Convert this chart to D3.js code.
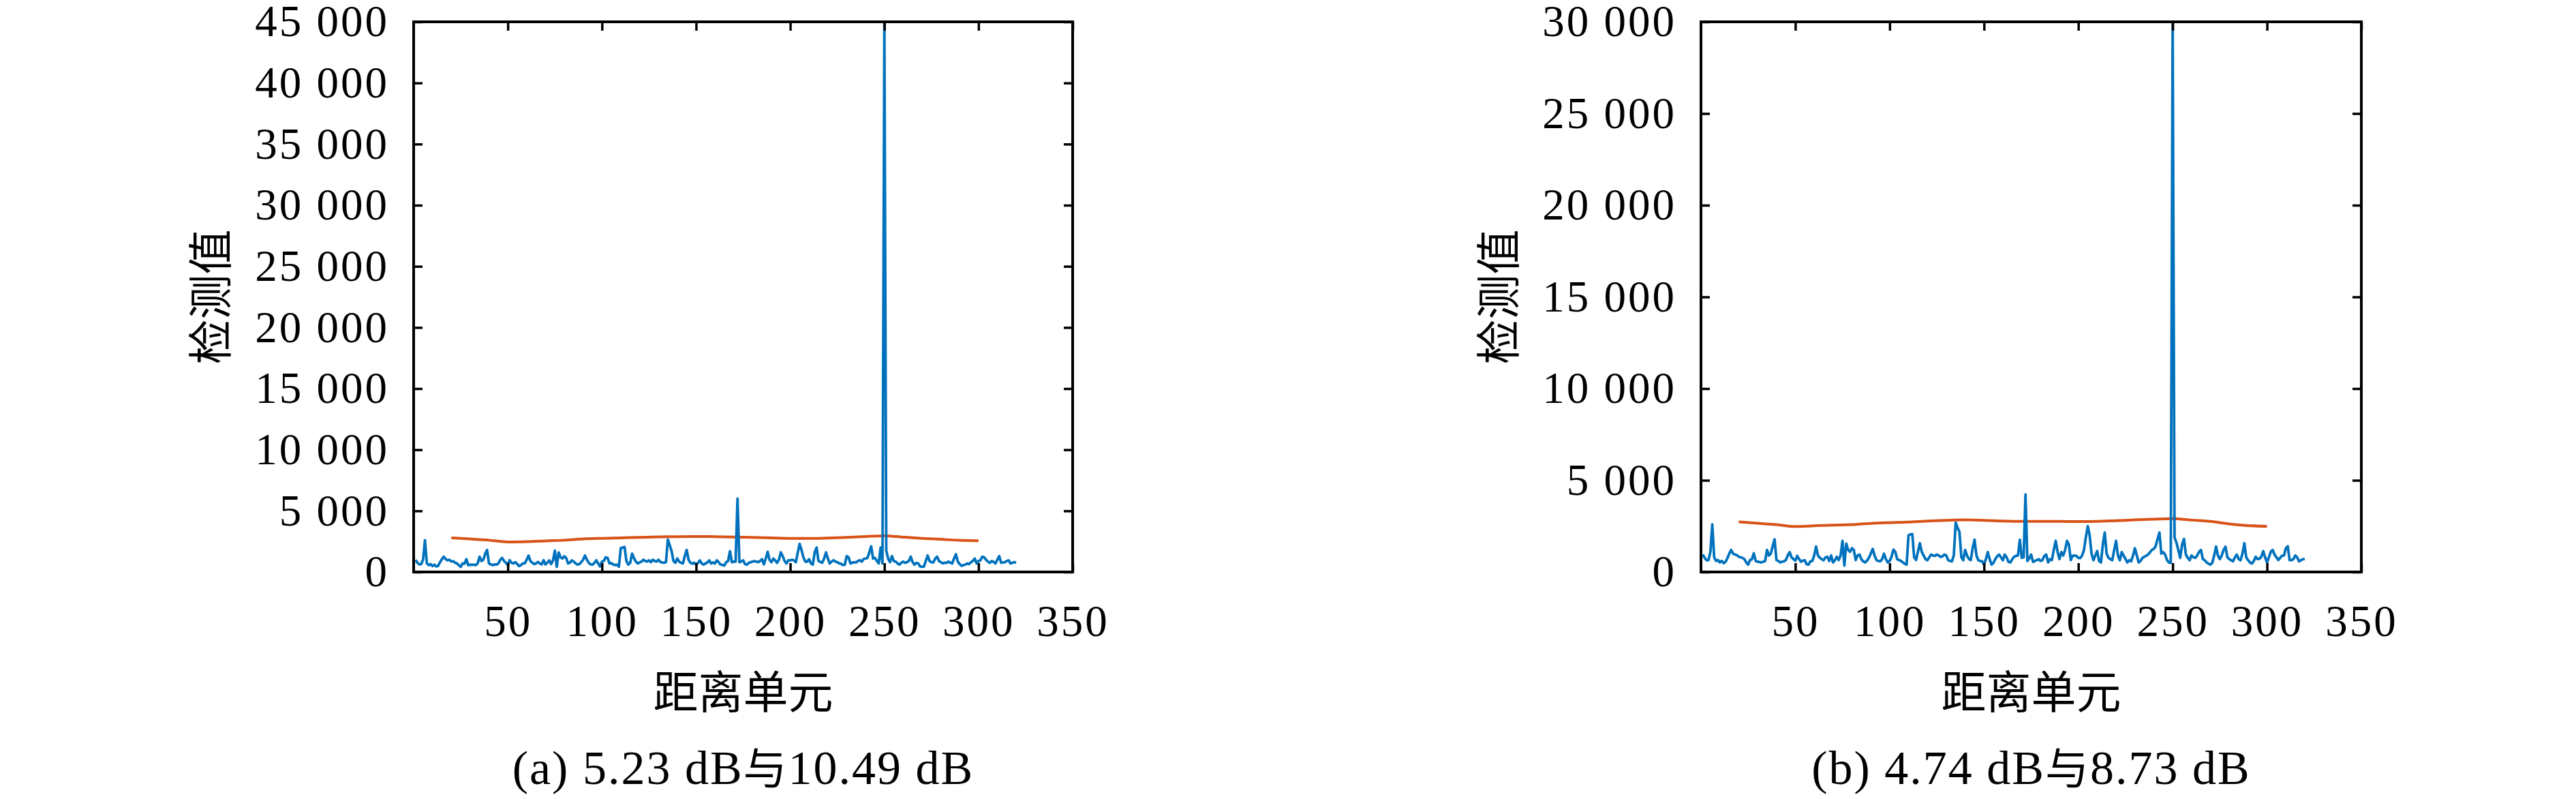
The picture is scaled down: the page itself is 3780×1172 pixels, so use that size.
<!DOCTYPE html>
<html><head><meta charset="utf-8">
<script src="https://cdn.jsdelivr.net/npm/d3@7"></script>
<style>
html,body{margin:0;padding:0;background:#fff;}
svg{display:block;}
</style></head>
<body>
<svg id="chart" width="3780" height="1172"></svg>
<script>
// ---------------- DATA ----------------
const rangeCells = d3.range(1, 321); // 距离单元 1..320

const detectA = [
980,760,620,640,1000,2600,700,560,640,480,
600,450,500,800,1050,1250,1050,950,1000,850,
880,760,700,550,420,700,680,1050,550,600,
580,600,560,700,1250,900,1000,1500,1800,700,
620,560,620,600,700,1000,1150,900,760,560,
960,750,700,800,650,480,560,700,700,1000,
1340,900,760,650,700,820,700,620,960,620,
760,950,650,950,1750,420,1600,1200,1100,1280,
1150,700,760,950,850,700,600,650,800,1000,
1350,1000,750,620,600,750,960,700,450,850,
900,1200,1150,700,720,620,560,600,430,1950,
2000,2050,900,600,750,1500,1150,850,700,780,
850,1000,900,850,950,800,1000,900,850,1000,
820,780,760,800,2650,2200,1700,900,750,1100,
850,750,700,1300,1800,1000,750,680,760,600,
750,950,700,600,700,780,950,700,780,700,
950,800,600,580,520,800,900,1700,800,850,
850,6000,800,850,950,650,600,750,800,850,
880,850,800,900,1050,620,1100,1650,1000,800,
1100,950,750,1000,1600,1300,900,700,950,950,
1000,950,800,1600,2300,1800,1200,850,850,1050,
700,600,1600,2000,900,820,760,1100,1600,1100,
700,850,960,850,800,700,680,560,600,1300,
1200,700,760,800,780,900,960,850,1060,1100,
1150,1600,2100,1100,1150,900,700,2000,700,44900,
1750,1100,800,1300,900,850,700,600,750,850,
750,800,900,1250,800,600,750,700,450,420,
440,900,1350,900,800,780,1100,1250,900,800,
700,760,750,850,760,700,1100,1450,850,650,
500,560,600,700,650,800,900,1100,700,900,
950,1250,1200,1000,850,750,900,820,700,1000,
1300,760,780,800,900,950,700,750,800,780
];

const detectB = [
950,760,640,650,1100,2600,800,600,650,520,
600,480,550,750,1000,1200,1000,950,920,830,
800,770,700,520,400,650,700,1020,600,560,
540,520,560,600,1200,900,1000,1400,1780,650,
600,520,560,580,650,900,1080,800,700,620,
880,700,560,620,640,420,400,580,600,900,
1390,900,770,700,640,800,830,600,900,520,
640,830,650,900,1700,350,1550,1200,1100,1300,
1200,650,900,950,700,580,520,620,770,1000,
1260,900,650,600,580,700,1000,700,520,600,
830,1220,1100,700,650,600,520,450,400,2000,
2050,2070,800,650,1100,1570,1100,900,700,640,
800,950,900,880,950,900,820,850,950,900,
650,600,580,900,2690,2400,2190,800,640,1200,
900,710,650,1300,1760,900,640,600,580,400,
700,1080,700,400,500,700,860,950,800,640,
950,800,550,520,700,830,880,900,1760,770,
800,4230,600,750,950,550,600,650,700,600,
650,880,950,520,700,650,1200,1700,1100,700,
1080,900,1200,1700,1500,650,880,900,880,770,
760,900,1200,1900,2500,2000,1000,640,900,1140,
600,520,1500,2150,1000,770,700,640,1200,1700,
900,640,1080,900,706,520,640,580,900,1290,
900,520,600,770,830,890,950,1080,1200,1264,
1400,1800,2150,1000,1080,950,650,520,500,29900,
1880,1600,1200,770,1500,1800,950,770,644,900,
800,770,900,1100,1200,700,640,520,450,400,
500,900,1390,900,700,900,1200,1380,800,700,
640,580,800,950,700,640,1000,1570,800,644,
520,460,600,830,700,720,830,1140,800,520,
800,1100,1200,950,800,650,770,890,900,1300,
1400,644,650,700,900,800,580,640,700,700
];

const thresholdCells = [20,30,40,50,60,70,80,90,100,110,120,130,140,150,160,170,180,190,200,210,220,230,240,250,260,270,280,290,300];
const thresholdA = [2790,2700,2600,2460,2480,2540,2600,2700,2750,2790,2830,2870,2890,2900,2890,2860,2830,2790,2750,2740,2780,2830,2900,2960,2850,2750,2670,2590,2550];
const thresholdB = [2730,2660,2580,2480,2520,2560,2580,2650,2690,2720,2780,2820,2840,2820,2780,2760,2760,2760,2750,2760,2800,2840,2880,2910,2830,2760,2620,2530,2490];

const xTicks = [50,100,150,200,250,300,350];
const xTickLabels = ["50","100","150","200","250","300","350"];
const yTicksA = [0,5000,10000,15000,20000,25000,30000,35000,40000,45000];
const yTickLabelsA = ["0","5 000","10 000","15 000","20 000","25 000","30 000","35 000","40 000","45 000"];
const yTicksB = [0,5000,10000,15000,20000,25000,30000];
const yTickLabelsB = ["0","5 000","10 000","15 000","20 000","25 000","30 000"];
const xDomain = [0,350];
const yMaxA = 45000, yMaxB = 30000;
const xTitle = "距离单元";
const yTitle = "检测值";
const captionA = "(a) 5.23 dB与10.49 dB";
const captionB = "(b) 4.74 dB与8.73 dB";

// ---------------- LAYOUT ----------------
const panels = [
  {id:"a", left:607, right:1574, top:32, bottom:839, yTitleX:309, det:detectA, thr:thresholdA,
   yMax:yMaxA, yTicks:yTicksA, yLabels:yTickLabelsA, caption:captionA},
  {id:"b", left:2496, right:3465, top:32, bottom:839, yTitleX:2199, det:detectB, thr:thresholdB,
   yMax:yMaxB, yTicks:yTicksB, yLabels:yTickLabelsB, caption:captionB}
];
const numFont = "'Liberation Serif', 'Times New Roman', serif";
const cjkFont = "'Noto Sans CJK SC', 'Liberation Serif', serif";
const numSize = 65;
const blue = "#0072BD", red = "#D95319";

const svg = d3.select("#chart");
svg.append("rect").attr("width",3780).attr("height",1172).attr("fill","#fff");

panels.forEach(p => {
  const x = d3.scaleLinear().domain(xDomain).range([p.left, p.right]);
  const y = d3.scaleLinear().domain([0, p.yMax]).range([p.bottom, p.top]);
  const g = svg.append("g");

  g.append("clipPath").attr("id","clip-"+p.id)
    .append("rect").attr("x",p.left).attr("y",p.top)
    .attr("width",p.right-p.left).attr("height",p.bottom-p.top);

  const lineDet = d3.line().x((d,i)=>x(rangeCells[i])).y(d=>y(d));
  const lineThr = d3.line().x((d,i)=>x(thresholdCells[i])).y(d=>y(d)).curve(d3.curveMonotoneX);

  const plot = g.append("g").attr("clip-path","url(#clip-"+p.id+")");
  plot.append("path").datum(p.thr).attr("d",lineThr)
    .attr("fill","none").attr("stroke",red).attr("stroke-width",4).attr("stroke-linejoin","round");
  plot.append("path").datum(p.det).attr("d",lineDet)
    .attr("fill","none").attr("stroke",blue).attr("stroke-width",3.8).attr("stroke-linejoin","round");

  const fmtX = d => xTickLabels[xTicks.indexOf(d)];
  const fmtY = d => p.yLabels[p.yTicks.indexOf(d)];

  const axB = g.append("g").attr("transform",`translate(0,${p.bottom})`)
    .call(d3.axisBottom(x).tickValues(xTicks).tickFormat(fmtX).tickSizeInner(-13).tickSizeOuter(0).tickPadding(48));
  const axT = g.append("g").attr("transform",`translate(0,${p.top})`)
    .call(d3.axisTop(x).tickValues(xTicks).tickFormat("").tickSizeInner(-13).tickSizeOuter(0));
  const axL = g.append("g").attr("transform",`translate(${p.left},0)`)
    .call(d3.axisLeft(y).tickValues(p.yTicks).tickFormat(fmtY).tickSizeInner(-13).tickSizeOuter(0).tickPadding(36));
  const axR = g.append("g").attr("transform",`translate(${p.right},0)`)
    .call(d3.axisRight(y).tickValues(p.yTicks).tickFormat("").tickSizeInner(-13).tickSizeOuter(0));

  [axB,axT,axL,axR].forEach(a => {
    a.select(".domain").remove();
    a.selectAll(".tick line").attr("stroke","#000").attr("stroke-width",3.5);
    a.selectAll(".tick text").attr("font-family",numFont).attr("font-size",numSize).attr("fill","#000")
      .attr("letter-spacing",3);
  });

  g.append("rect").attr("x",p.left).attr("y",p.top)
    .attr("width",p.right-p.left).attr("height",p.bottom-p.top)
    .attr("fill","none").attr("stroke","#000").attr("stroke-width",4);

  const cx = (p.left+p.right)/2;
  g.append("text").attr("x",cx).attr("y",1039).attr("text-anchor","middle")
    .attr("font-family",cjkFont).attr("font-size",66).text(xTitle);

  g.append("text").attr("transform",`translate(${p.yTitleX+24},${(p.top+p.bottom)/2}) rotate(-90)`)
    .attr("text-anchor","middle").attr("font-family",cjkFont).attr("font-size",66).text(yTitle);

  const cap = g.append("text").attr("x",cx).attr("y",1150).attr("text-anchor","middle")
    .attr("font-family",numFont).attr("font-size",70).attr("letter-spacing",2);
  const m = p.caption.split("与");
  cap.append("tspan").text(m[0]);
  cap.append("tspan").attr("font-family",cjkFont).attr("font-size",64).text("与");
  cap.append("tspan").text(m[1]);
});
</script>
</body></html>
